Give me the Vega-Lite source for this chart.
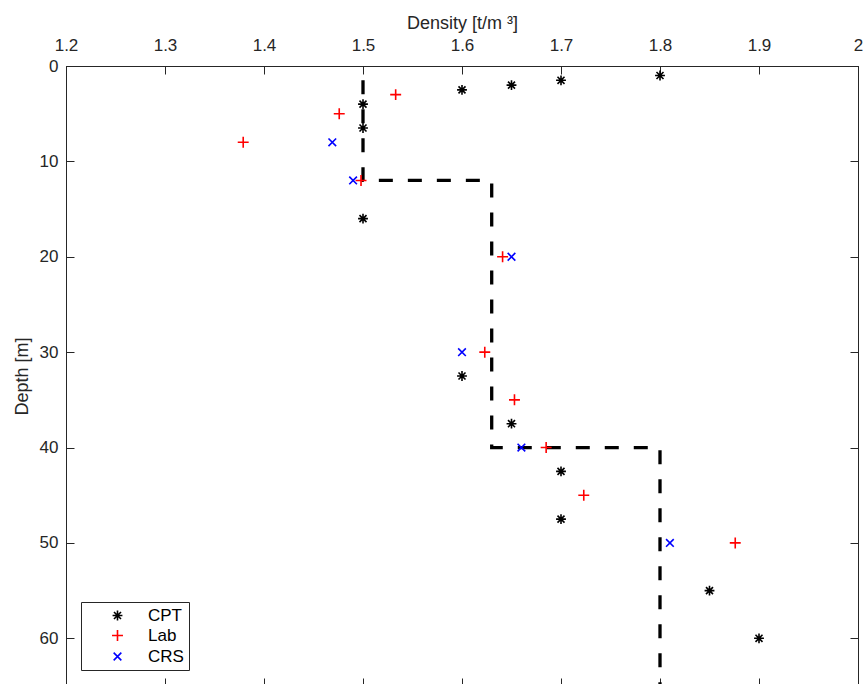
{
  "$schema": "https://vega.github.io/schema/vega-lite/v6.json",
  "width": 792,
  "height": 620,
  "autosize": "none",
  "padding": {"left": 66, "top": 66, "right": 10, "bottom": 0},
  "background": "white",
  "config": {
    "font": "Liberation Sans",
    "view": {"stroke": "#262626", "strokeWidth": 1},
    "axis": {
      "grid": false,
      "domainColor": "#262626",
      "tickColor": "#262626",
      "tickSize": -8,
      "labelColor": "#262626",
      "titleColor": "#262626",
      "labelFontSize": 17,
      "titleFontSize": 17,
      "titleFontWeight": "normal",
      "labelFlush": false,
      "labelOverlap": false
    }
  },
  "datasets": {
    "profile": [
      {"i": 0, "density": 1.5, "depth": 1.5},
      {"i": 1, "density": 1.5, "depth": 12},
      {"i": 2, "density": 1.63, "depth": 12},
      {"i": 3, "density": 1.63, "depth": 40},
      {"i": 4, "density": 1.8, "depth": 40},
      {"i": 5, "density": 1.8, "depth": 65}
    ],
    "points": [
      {"source": "CPT", "density": 1.8, "depth": 1},
      {"source": "CPT", "density": 1.7, "depth": 1.5},
      {"source": "CPT", "density": 1.65, "depth": 2},
      {"source": "CPT", "density": 1.6, "depth": 2.5},
      {"source": "CPT", "density": 1.5, "depth": 4},
      {"source": "CPT", "density": 1.5, "depth": 6.5},
      {"source": "CPT", "density": 1.5, "depth": 16},
      {"source": "CPT", "density": 1.6, "depth": 32.5},
      {"source": "CPT", "density": 1.65, "depth": 37.5},
      {"source": "CPT", "density": 1.7, "depth": 42.5},
      {"source": "CPT", "density": 1.7, "depth": 47.5},
      {"source": "CPT", "density": 1.85, "depth": 55},
      {"source": "CPT", "density": 1.9, "depth": 60},
      {"source": "Lab", "density": 1.533, "depth": 3},
      {"source": "Lab", "density": 1.476, "depth": 5},
      {"source": "Lab", "density": 1.379, "depth": 8},
      {"source": "Lab", "density": 1.498, "depth": 12},
      {"source": "Lab", "density": 1.641, "depth": 20},
      {"source": "Lab", "density": 1.623, "depth": 30},
      {"source": "Lab", "density": 1.653, "depth": 35},
      {"source": "Lab", "density": 1.685, "depth": 40},
      {"source": "Lab", "density": 1.723, "depth": 45},
      {"source": "Lab", "density": 1.876, "depth": 50},
      {"source": "CRS", "density": 1.469, "depth": 8},
      {"source": "CRS", "density": 1.49, "depth": 12},
      {"source": "CRS", "density": 1.65, "depth": 20},
      {"source": "CRS", "density": 1.6, "depth": 30},
      {"source": "CRS", "density": 1.66, "depth": 40},
      {"source": "CRS", "density": 1.81, "depth": 50}
    ]
  },
  "layer": [
    {
      "data": {"name": "profile"},
      "mark": {"type": "line", "color": "black", "strokeWidth": 3.3, "strokeDash": [14, 15], "strokeCap": "butt", "clip": true},
      "encoding": {
        "x": {
          "field": "density", "type": "quantitative",
          "scale": {"domain": [1.2, 2], "nice": false, "zero": false},
          "axis": {
            "orient": "top",
            "values": [1.2, 1.3, 1.4, 1.5, 1.6, 1.7, 1.8, 1.9, 2],
            "format": "~g",
            "labelFontSize": 17,
            "labelPadding": 20,
            "title": "Density [t/m ³]",
            "titleFontSize": 18,
            "titlePadding": 4
          }
        },
        "y": {
          "field": "depth", "type": "quantitative",
          "scale": {"domain": [0, 65], "nice": false, "zero": false, "reverse": true},
          "axis": {
            "orient": "left",
            "values": [0, 10, 20, 30, 40, 50, 60],
            "labelFontSize": 17,
            "labelPadding": 16,
            "title": "Depth [m]",
            "titleFontSize": 18,
            "titlePadding": 8
          }
        },
        "order": {"field": "i", "type": "quantitative"}
      }
    },
    {
      "data": {"name": "points"},
      "mark": {"type": "point", "filled": false, "strokeWidth": 1.6, "size": 120, "opacity": 1},
      "encoding": {
        "x": {
          "field": "density", "type": "quantitative",
          "axis": {"orient": "bottom", "values": [1.2, 1.3, 1.4, 1.5, 1.6, 1.7, 1.8, 1.9, 2], "labels": false, "title": null}
        },
        "y": {
          "field": "depth", "type": "quantitative",
          "axis": {"orient": "right", "values": [0, 10, 20, 30, 40, 50, 60], "labels": false, "title": null}
        },
        "color": {
          "field": "source", "type": "nominal",
          "scale": {"domain": ["CPT", "Lab", "CRS"], "range": ["#000000", "#ff0000", "#0000ff"]},
          "legend": {
            "orient": "none", "legendX": 15, "legendY": 536, "title": null,
            "fillColor": "white", "strokeColor": "#262626", "padding": 5,
            "labelFontSize": 17, "labelColor": "black", "symbolSize": 120, "symbolStrokeWidth": 1.6,
            "rowPadding": 2, "labelOffset": 22, "symbolOffset": 23
          }
        },
        "shape": {
          "field": "source", "type": "nominal",
          "scale": {
            "domain": ["CPT", "Lab", "CRS"],
            "range": [
              "M-0.9,0L0.9,0M0,-0.9L0,0.9M-0.64,-0.64L0.64,0.64M-0.64,0.64L0.64,-0.64",
              "M-1,0L1,0M0,-1L0,1",
              "M-0.7,-0.7L0.7,0.7M-0.7,0.7L0.7,-0.7"
            ]
          },
          "legend": {
            "orient": "none", "legendX": 15, "legendY": 536, "title": null,
            "fillColor": "white", "strokeColor": "#262626", "padding": 5,
            "labelFontSize": 17, "labelColor": "black", "symbolSize": 120, "symbolStrokeWidth": 1.6,
            "rowPadding": 2, "labelOffset": 22, "symbolOffset": 23
          }
        }
      }
    }
  ],
  "resolve": {"axis": {"x": "independent", "y": "independent"}}
}
